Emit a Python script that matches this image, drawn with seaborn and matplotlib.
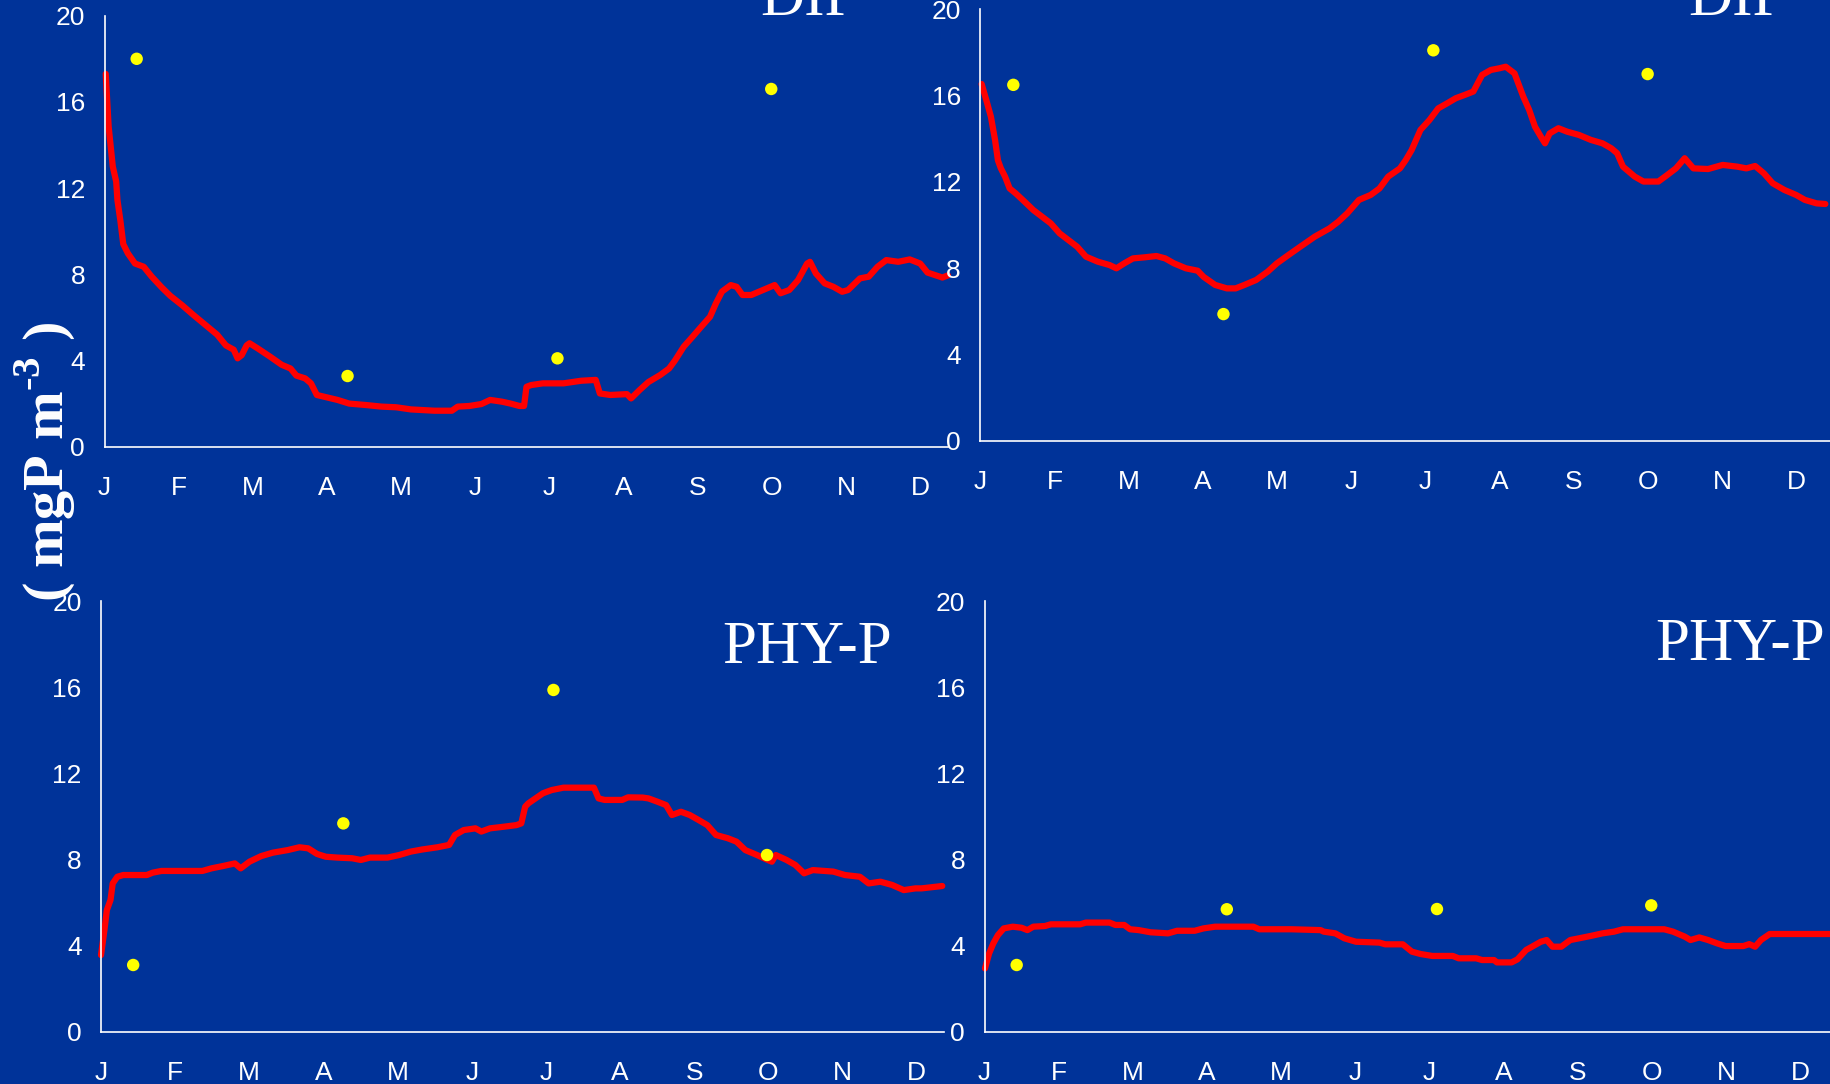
import matplotlib
matplotlib.use("Agg")
import matplotlib.pyplot as plt
import seaborn as sns
import pandas as pd

sns.set_theme(style="white")

BG = "#003399"
W, H = 1830, 1084

months = ["J", "F", "M", "A", "M", "J", "J", "A", "S", "O", "N", "D"]
yticks = [0, 4, 8, 12, 16, 20]

# ---- DIP, left panel ----
dip1_day = [0.5, 1.7, 3.4, 4.8, 5.3, 6.5, 7.7, 9.6, 12.5, 16.1, 19.3, 23.4, 27, 31.8, 36.6, 41.4, 46.2,
            49.8, 53, 54.6, 56.3, 58.3, 59.5, 63, 67.9, 72.7, 76.3, 78.7, 82.3, 84.7, 87.1, 90.8, 95.6,
            100.4, 107.6, 113.6, 119.6, 125.7, 135.3, 142.5, 144.9, 149.7, 154.6, 158.2, 163, 166.6,
            170.2, 172.1, 173.1, 175, 179.8, 188.3, 195.5, 201.5, 203.2, 207.5, 214.3, 216, 219.5,
            223.1, 228, 231.6, 234, 237.6, 241.2, 244.8, 248.4, 250.8, 253.3, 256.9, 259.3, 261.7,
            265.3, 270.1, 274.9, 277.3, 280.9, 284.5, 288.2, 289.4, 291.8, 295.4, 299, 302.6, 305,
            309.9, 313.5, 317.1, 320.7, 325.6, 330.3, 334.6, 337.6, 343.7, 346]
dip1_val = [17.3, 14.85, 13.0, 12.3, 11.45, 10.5, 9.4, 8.97, 8.5, 8.35, 7.9, 7.4, 7.0, 6.57, 6.1, 5.65, 5.2,
            4.7, 4.5, 4.1, 4.25, 4.7, 4.8, 4.55, 4.18, 3.8, 3.63, 3.3, 3.17, 2.94, 2.4, 2.3, 2.17,
            2.0, 1.93, 1.86, 1.83, 1.73, 1.67, 1.67, 1.86, 1.89, 1.98, 2.17, 2.09, 2.0,
            1.89, 1.89, 2.78, 2.86, 2.94, 2.94, 3.06, 3.1, 2.47, 2.4, 2.44, 2.24, 2.63,
            3.0, 3.33, 3.63, 4.0, 4.64, 5.1, 5.57, 6.03, 6.65, 7.2, 7.5, 7.42, 7.04,
            7.04, 7.27, 7.5, 7.12, 7.27, 7.73, 8.5, 8.58, 8.04, 7.58, 7.42, 7.19, 7.27,
            7.81, 7.89, 8.35, 8.66, 8.58, 8.69, 8.5, 8.08, 7.85, 7.95]
dip1_obs_day = [13.2, 99.7, 185.8, 273.5]
dip1_obs_val = [18.0, 3.28, 4.1, 16.6]

# ---- DIP, right panel ----
dip2_day = [0.5, 2.4, 4.3, 6, 7.2, 8.4, 10.1, 12, 14.4, 18.1, 21.7, 25.3, 28.9, 32.5, 36.1, 39.7, 43.3,
            48.1, 53, 55.8, 59, 62.6, 67.4, 72.2, 75.8, 79.4, 84.3, 89.1, 91.5, 96.3, 101.1, 104.7,
            108.3, 113.1, 117.9, 121.6, 126.4, 131.2, 137.2, 143.2, 146.8, 150.5, 155.3, 160.1, 163.7,
            167.3, 172.1, 174.5, 176.9, 180.5, 184.2, 187.8, 191.4, 195, 198.6, 202.2, 205.8, 209.4,
            213, 215.5, 219.1, 222.7, 225.1, 227.5, 229.9, 231.6, 233.5, 237.1, 240.7, 245.5, 250.4,
            255.2, 258.8, 261.2, 263.6, 268.4, 272, 278.1, 281.7, 285.3, 288.9, 292.5, 298.5, 304.5,
            310.5, 314.2, 317.8, 321.4, 325, 329.8, 334.6, 338.2, 343, 346.6]
dip2_val = [16.54, 15.8, 15.03, 13.95, 13.0, 12.63, 12.25, 11.7, 11.48, 11.09, 10.7, 10.39, 10.08, 9.62,
            9.31, 9.0, 8.54, 8.31, 8.15, 8.0, 8.23, 8.46, 8.51, 8.57, 8.46, 8.23, 8.0, 7.89, 7.61,
            7.23, 7.07, 7.07, 7.23, 7.46, 7.85, 8.23, 8.62, 9.0, 9.47, 9.85, 10.16, 10.55, 11.17,
            11.4, 11.7, 12.25, 12.63, 13.02, 13.48, 14.41, 14.87, 15.41, 15.64, 15.88, 16.03, 16.19,
            16.96, 17.19, 17.27, 17.34, 17.03, 15.95, 15.34, 14.56, 14.1, 13.79, 14.25, 14.49, 14.33,
            14.18, 13.95, 13.79, 13.56, 13.33, 12.71, 12.25, 12.02, 12.02, 12.32, 12.63, 13.1, 12.63,
            12.6, 12.79, 12.71, 12.63, 12.74, 12.4, 11.94, 11.63, 11.4, 11.17, 11.01, 10.98]
dip2_obs_day = [13.5, 99.7, 185.8, 273.7]
dip2_obs_val = [16.5, 5.88, 18.1, 17.0]

# ---- PHY-P, left panel ----
phy1_day = [0, 1.4, 2.4, 3.9, 4.8, 6.7, 9.1, 18.8, 21.2, 24.8, 30.8, 41.6, 45.3, 50.1, 54.9, 57.3, 60.9,
            65.7, 70.5, 76.6, 81.4, 85, 88.6, 92.2, 97, 103, 106.6, 110.3, 117.5, 122.3, 127.1, 131.9,
            138, 142.8, 145.2, 148.8, 153.6, 156, 159.6, 165.6, 170.4, 172.4, 174, 175.3, 177.7,
            181.3, 184.9, 189.7, 196.9, 202.2, 204.1, 206.6, 213.8, 216.2, 222.2, 224.6, 228.2,
            231.8, 234.2, 237.9, 241.5, 245.1, 248.7, 252.3, 257.1, 260.7, 264.3, 269.1, 272.7,
            275.2, 276.8, 281.2, 284.8, 288.4, 292, 300.4, 305.2, 311.3, 314.9, 319.7, 324.5,
            329.3, 334.1, 336.6, 345.1]
phy1_val = [3.56, 4.72, 5.65, 6.12, 6.89, 7.2, 7.28, 7.28, 7.39, 7.47, 7.47, 7.47, 7.59, 7.7, 7.82, 7.59,
            7.9, 8.16, 8.32, 8.44, 8.57, 8.52, 8.26, 8.13, 8.09, 8.06, 7.98, 8.09, 8.09, 8.21, 8.37,
            8.47, 8.57, 8.68, 9.14, 9.37, 9.45, 9.3, 9.45, 9.53, 9.6, 9.68, 10.46, 10.61, 10.8,
            11.08, 11.23, 11.34, 11.34, 11.34, 10.84, 10.77, 10.77, 10.89, 10.88, 10.84, 10.69,
            10.53, 10.07, 10.22, 10.07, 9.84, 9.6, 9.14, 8.99, 8.83, 8.44, 8.21, 8.02,
            7.9, 8.21, 7.98, 7.75, 7.36, 7.51, 7.44, 7.28, 7.2, 6.89, 6.97, 6.82,
            6.58, 6.66, 6.66, 6.77]
phy1_obs_day = [13.2, 99.4, 185.6, 273.2]
phy1_obs_val = [3.1, 9.68, 15.88, 8.21]

# ---- PHY-P, right panel ----
phy2_day = [0.2, 1.9, 3.6, 5.5, 7.9, 11.6, 15.2, 17.6, 20, 24.8, 27.2, 34.4, 39.2, 41.6, 51.3, 53.7, 57.3,
            59.7, 63.3, 68.1, 75.3, 79, 86.2, 89.8, 94.6, 104.2, 110.3, 112.7, 125.9, 137.9, 139.1,
            143.9, 147.6, 152.4, 162, 164.4, 171.6, 175.3, 178.9, 183.7, 192.1, 194.5, 201.7, 204.1,
            209, 210.2, 216.2, 218.6, 222.2, 224.6, 228.2, 230.6, 233, 236.6, 240.3, 243.9, 248.7,
            253.5, 258.3, 261.9, 266.7, 278.8, 282.4, 287.2, 289.6, 293.2, 296.8, 300.4, 304,
            311.3, 313.7, 316.1, 318.5, 322.1, 328.1, 350]
phy2_val = [2.94, 3.64, 4.1, 4.49, 4.8, 4.88, 4.83, 4.72, 4.88, 4.91, 4.99, 4.99, 4.99, 5.07, 5.07, 4.96,
            4.96, 4.76, 4.72, 4.62, 4.57, 4.69, 4.69, 4.8, 4.88, 4.88, 4.88, 4.76, 4.76, 4.72, 4.65,
            4.57, 4.34, 4.18, 4.14, 4.06, 4.06, 3.72, 3.61, 3.52, 3.52, 3.41, 3.41, 3.33,
            3.33, 3.22, 3.22, 3.36, 3.8, 3.95, 4.18, 4.26, 3.95, 3.95, 4.26, 4.34, 4.45,
            4.57, 4.65, 4.76, 4.76, 4.76, 4.65, 4.42, 4.26, 4.38, 4.26, 4.11, 3.98,
            3.98, 4.07, 3.95, 4.26, 4.54, 4.54, 4.54]
phy2_obs_day = [13.2, 99.4, 185.6, 273.5]
phy2_obs_val = [3.1, 5.69, 5.7, 5.87]

panels = [
    # (left px, y0 px, y20 px, xmax, line x, line y, obs x, obs y)
    (104.5, 446.7, 15.7, 346, dip1_day, dip1_val, dip1_obs_day, dip1_obs_val),
    (980.4, 441.0, 9.3, 365, dip2_day, dip2_val, dip2_obs_day, dip2_obs_val),
    (101.0, 1031.7, 601.3, 346, phy1_day, phy1_val, phy1_obs_day, phy1_obs_val),
    (984.5, 1031.7, 601.3, 365, phy2_day, phy2_val, phy2_obs_day, phy2_obs_val),
]

PX_PER_DAY = 74.15 / (365 / 12)
DPI = 100
fig = plt.figure(figsize=(W / DPI, H / DPI), dpi=DPI, facecolor=BG)

tick_font = ["Liberation Sans Narrow", "Liberation Sans", "DejaVu Sans"]

for (lx, y0, y20, xmax, ld, lv, od, ov) in panels:
    width = xmax * PX_PER_DAY
    ax = fig.add_axes([lx / W, (H - y0) / H, width / W, (y0 - y20) / H])
    ax.set_facecolor(BG)
    sns.lineplot(x=ld, y=lv, ax=ax, color="#FF0000", linewidth=4.5, clip_on=False)
    sns.scatterplot(x=od, y=ov, ax=ax, color="#FFFF00", s=80, edgecolor="none", zorder=5)
    ax.set_xlim(0, xmax)
    ax.set_ylim(0, 20)
    ax.set_xticks([i * 365 / 12 for i in range(12)])
    ax.set_xticklabels(months)
    ax.set_yticks(yticks)
    ax.set_yticklabels([str(v) for v in yticks])
    for s in ["top", "right"]:
        ax.spines[s].set_visible(False)
    for s in ["left", "bottom"]:
        ax.spines[s].set_color("white")
        ax.spines[s].set_linewidth(1.2)
    ax.tick_params(axis="both", direction="in", colors="white", length=6, width=1.1,
                   labelsize=19)
    ax.tick_params(axis="y", pad=14)
    ax.tick_params(axis="x", pad=21)
    for lab in ax.get_xticklabels() + ax.get_yticklabels():
        lab.set_family(tick_font)
    ax.set_xlabel("")
    ax.set_ylabel("")
    ax.grid(False)

title_font = ["Liberation Serif", "DejaVu Serif"]
fig.text(760 / W, 1 - 15 / H, "DIP", color="white", fontsize=44, family=title_font,
         ha="left", va="baseline")
fig.text(1688 / W, 1 - 15 / H, "DIP", color="white", fontsize=44, family=title_font,
         ha="left", va="baseline")
fig.text(722 / W, 1 - 663 / H, "PHY-P", color="white", fontsize=44, family=title_font,
         ha="left", va="baseline")
fig.text(1655 / W, 1 - 660 / H, "PHY-P", color="white", fontsize=44, family=title_font,
         ha="left", va="baseline")

plt.rcParams["mathtext.fontset"] = "custom"
plt.rcParams["mathtext.rm"] = "Liberation Serif:bold"
fig.text(45 / W, 1 - 462 / H, r"( mgP m$^{\text{-3}}$ )", color="white", fontsize=42,
         family=title_font, fontweight="bold", rotation=90, ha="center", va="center")

fig.savefig("out.png", dpi=DPI, facecolor=BG)
